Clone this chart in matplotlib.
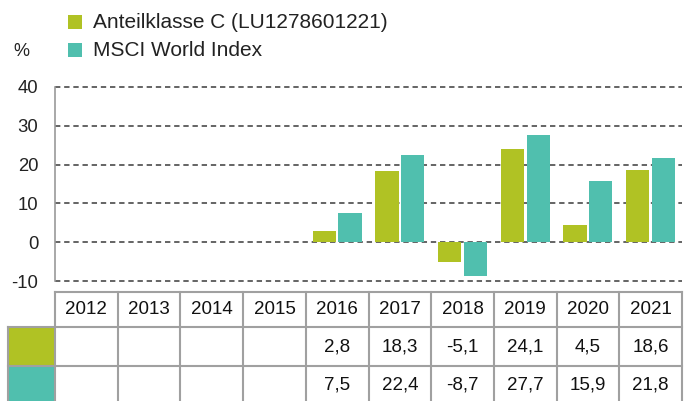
import matplotlib
matplotlib.use("Agg")
import matplotlib.pyplot as plt
from matplotlib.transforms import blended_transform_factory
import numpy as np

plt.rcParams['font.family'] = ['Liberation Sans', 'DejaVu Sans']

years = ["2012", "2013", "2014", "2015", "2016", "2017", "2018", "2019", "2020", "2021"]
fund = [None, None, None, None, 2.8, 18.3, -5.1, 24.1, 4.5, 18.6]
msci = [None, None, None, None, 7.5, 22.4, -8.7, 27.7, 15.9, 21.8]
series_names = ["Anteilklasse C (LU1278601221)", "MSCI World Index"]
colors = ["#B0C224", "#50BFAE"]
yticks = [-10, 0, 10, 20, 30, 40]

W, H = 685, 401
fig = plt.figure(figsize=(W / 100, H / 100), dpi=100)
ax = fig.add_axes([55 / W, 1 - 281 / H, (682 - 55) / W, (281 - 87) / H])

x = np.arange(len(years))
bw = 0.37
off = 0.205
for i, (vals, c) in enumerate(zip([fund, msci], colors)):
    xs = [xi + (-off if i == 0 else off) for xi, v in zip(x, vals) if v is not None]
    vs = [v for v in vals if v is not None]
    ax.bar(xs, vs, width=bw, color=c, zorder=3)

ax.set_xlim(-0.5, len(years) - 0.5)
ax.set_ylim(-10, 40)
ax.set_yticks(yticks)
ax.set_yticklabels([str(t) for t in yticks], fontsize=13.3, color="#222222")
ax.tick_params(axis='y', length=0, pad=12)
ax.set_xticks([])
for t in yticks:
    ax.axhline(t, color="#3a3a3a", lw=1.1, ls=(0, (3.5, 2.5)), zorder=1, clip_on=False)
for s in ["top", "right", "bottom"]:
    ax.spines[s].set_visible(False)
ax.spines["left"].set_color("#9a9a9a")
ax.spines["left"].set_linewidth(1.2)
ax.spines["left"].set_zorder(2)

# table
tr = blended_transform_factory(ax.transData, fig.transFigure)
def fy(p):
    return 1 - p / H
y_head_top, y_head_bot, y_r1_bot, y_r2_bot = 292, 327, 366, 405
lc = "#a0a0a0"
lw = 1.5
for yy in [y_head_top, y_head_bot, y_r1_bot]:
    fig.add_artist(plt.Line2D([-0.5, len(years) - 0.5], [fy(yy), fy(yy)], transform=tr, color=lc, lw=lw))
figtr = fig.transFigure
for yy in [y_head_bot, y_r1_bot]:
    fig.add_artist(plt.Line2D([8 / W, 55 / W], [fy(yy), fy(yy)], transform=figtr, color=lc, lw=lw))
for k in range(len(years) + 1):
    fig.add_artist(plt.Line2D([k - 0.5, k - 0.5], [fy(y_head_top), fy(y_r2_bot)], transform=tr, color=lc, lw=lw))
fig.add_artist(plt.Line2D([8 / W, 8 / W], [fy(y_head_bot), fy(y_r2_bot)], transform=figtr, color=lc, lw=lw))
for (top, bot), c in zip([(y_head_bot, y_r1_bot), (y_r1_bot, y_r2_bot)], colors):
    fig.add_artist(plt.Rectangle((9 / W, fy(bot - 1)), 45 / W, (bot - top - 2) / H, transform=figtr, color=c, lw=0))
tfs = 13.5
for k, yr in enumerate(years):
    fig.text(k, fy((y_head_top + y_head_bot) / 2), yr, transform=tr, ha="center", va="center", fontsize=tfs, color="#111111")
    for vals, (top, bot) in zip([fund, msci], [(y_head_bot, y_r1_bot), (y_r1_bot, 402)]):
        v = vals[k]
        if v is not None:
            fig.text(k, fy((top + bot) / 2 + 1), f"{v:.1f}".replace(".", ","), transform=tr, ha="center", va="center", fontsize=tfs, color="#111111")

# legend and unit
fig.text(13 / W, fy(51), "%", fontsize=13, color="#222222", va="center", ha="left")
for i, (name, c) in enumerate(zip(series_names, colors)):
    yc = [22, 50][i]
    fig.add_artist(plt.Rectangle((68 / W, fy(yc + 7)), 14 / W, 14 / H, transform=figtr, color=c, lw=0))
    fig.text(93 / W, fy(yc), name, fontsize=15, color="#222222", va="center", ha="left")

fig.savefig("out.png", dpi=100)
